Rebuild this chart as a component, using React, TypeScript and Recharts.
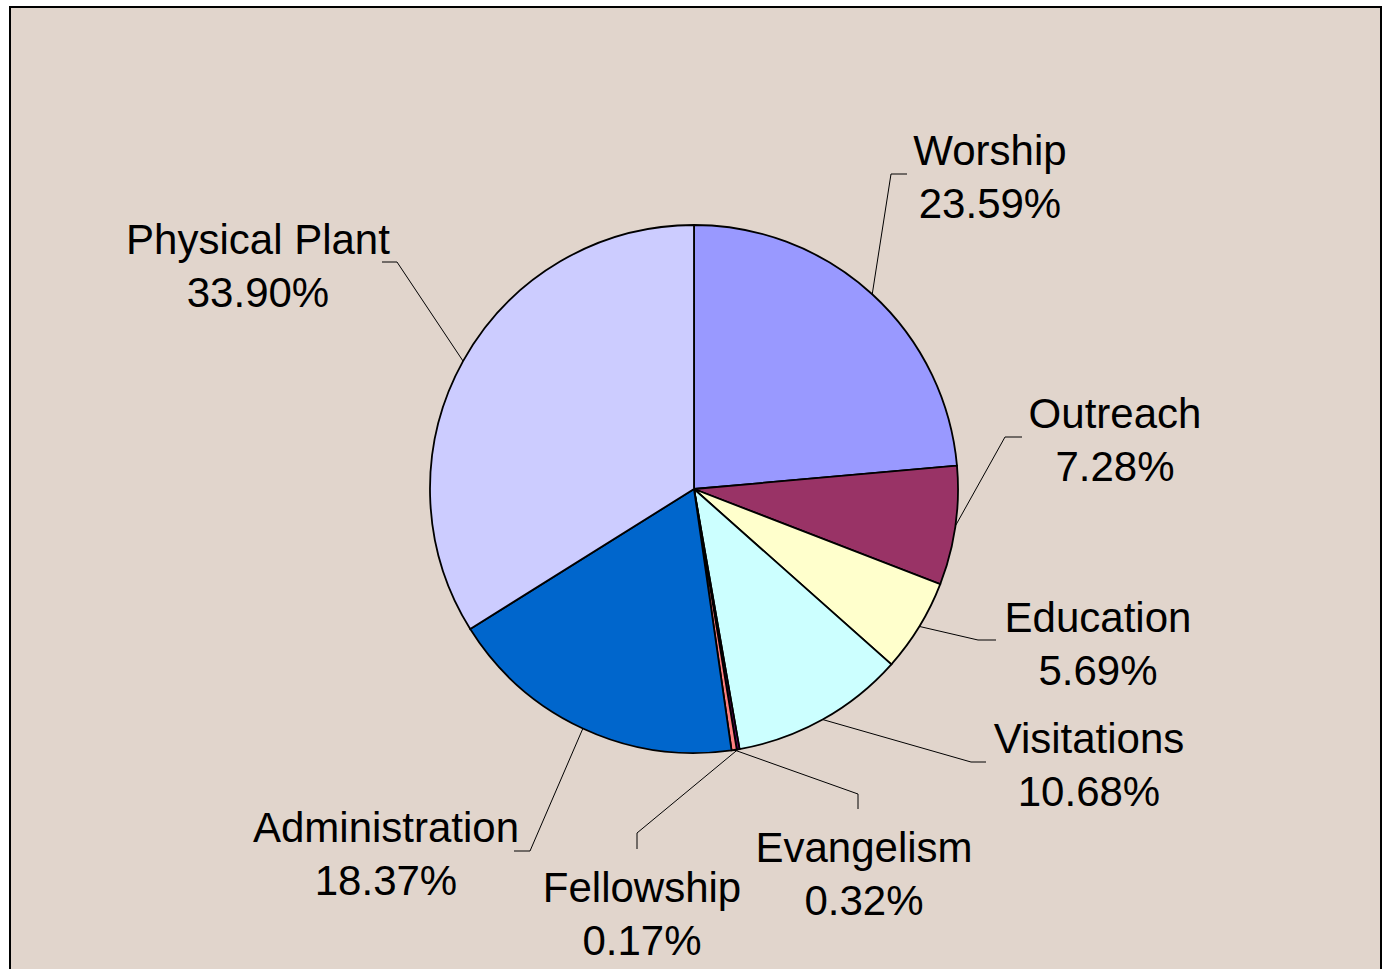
import React from 'react';
import { PieChart, Pie, Cell } from 'recharts';

const categories = ['Worship', 'Outreach', 'Education', 'Visitations', 'Fellowship', 'Evangelism', 'Administration', 'Physical Plant'];
const values = [23.59, 7.28, 5.69, 10.68, 0.17, 0.32, 18.37, 33.90];
const percentLabels = ['23.59%', '7.28%', '5.69%', '10.68%', '0.17%', '0.32%', '18.37%', '33.90%'];
const colors = ['#9999FF', '#993366', '#FFFFCC', '#CCFFFF', '#660066', '#FF8080', '#0066CC', '#CCCCFF'];

// label layout (offsets from the pie centre): text centre/baseline, leader elbow, leader end
const labelLayout = [
  { tx: 296, ty: -324, ex: 197, ey: -315, lx: 213, ly: -315 },
  { tx: 421, ty: -61, ex: 311, ey: -52, lx: 328, ly: -52 },
  { tx: 404, ty: 143, ex: 284, ey: 151, lx: 302, ly: 151 },
  { tx: 395, ty: 264, ex: 277, ey: 273, lx: 292, ly: 273 },
  { tx: -52, ty: 413, ex: -57, ey: 344, lx: -57, ly: 360 },
  { tx: 170, ty: 373, ex: 164, ey: 305, lx: 164, ly: 320 },
  { tx: -308, ty: 353, ex: -164, ey: 362, lx: -180, ly: 362 },
  { tx: -436, ty: -235, ex: -297, ey: -227, lx: -312, ly: -227 },
];

const data = categories.map((name, i) => ({ name, value: values[i], pct: percentLabels[i] }));

const RAD = Math.PI / 180;

const renderLabel = (props: any) => {
  const { cx, cy, midAngle, outerRadius, index } = props;
  const L = labelLayout[index];
  const sx = cx + outerRadius * Math.cos(-midAngle * RAD);
  const sy = cy + outerRadius * Math.sin(-midAngle * RAD);
  const ex = cx + L.ex;
  const ey = cy + L.ey;
  const lx = cx + L.lx;
  const ly = cy + L.ly;
  const tx = cx + L.tx;
  const ty = cy + L.ty;
  return (
    <g key={`lbl-${index}`}>
      <polyline points={`${sx},${sy} ${ex},${ey} ${lx},${ly}`} fill="none" stroke="#000" strokeWidth={1} />
      <text
        x={tx}
        y={ty}
        textAnchor="middle"
        fill="#000"
        fontFamily="'Liberation Sans', Arial, sans-serif"
        fontSize={42}
      >
        <tspan x={tx} y={ty}>{categories[index]}</tspan>
        <tspan x={tx} y={ty + 53}>{percentLabels[index]}</tspan>
      </text>
    </g>
  );
};

export default function App() {
  return (
    <div style={{ position: 'absolute', left: 0, top: 0, width: 1390, height: 969, overflow: 'hidden', background: '#fff' }}>
      <div
        style={{
          position: 'absolute',
          left: 9,
          top: 6,
          width: 1369,
          height: 990,
          background: '#E1D5CC',
          border: '2px solid #000',
        }}
      />
      <div style={{ position: 'absolute', left: 0, top: 0 }}>
        <PieChart width={1390} height={969} margin={{ top: 0, right: 0, bottom: 0, left: 0 }}>
          <Pie
            data={data}
            dataKey="value"
            nameKey="name"
            cx={694}
            cy={489}
            outerRadius={264}
            innerRadius={0}
            startAngle={90}
            endAngle={-270}
            stroke="#000"
            strokeWidth={1.8}
            label={renderLabel}
            labelLine={false}
            isAnimationActive={false}
          >
            {data.map((d, i) => (
              <Cell key={d.name} fill={colors[i]} />
            ))}
          </Pie>
        </PieChart>
      </div>
    </div>
  );
}
